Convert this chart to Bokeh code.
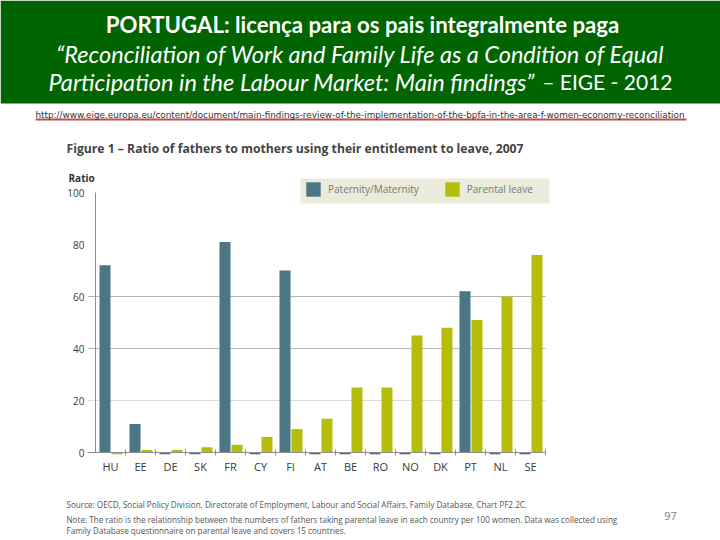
from bokeh.embed import file_html
from bokeh.resources import INLINE
from bokeh.plotting import figure
from bokeh.models import (BoxAnnotation, ColumnDataSource, FixedTicker, Label, Legend,
                          LegendItem, LinearAxis, Range1d)

countries = ["HU", "EE", "DE", "SK", "FR", "CY", "FI", "AT", "BE", "RO", "NO", "DK", "PT", "NL", "SE"]
paternity = [72, 11, -0.7, -0.7, 81, -0.7, 70, -0.7, -0.7, -0.7, -0.7, -0.7, 62, -0.7, -0.7]
parental = [-0.7, 1, 1, 2, 3, 6, 9, 13, 25, 25, 45, 48, 51, 60, 76]
y_ticks = [0, 20, 40, 60, 80, 100]
grid_values = [60, 40, 20]
grid_colors = ["#B4B4B4", "#B8B8B8", "#DADADA"]
series_names = ["Paternity/Maternity", "Parental leave"]
title_1 = "PORTUGAL: licença para os pais integralmente paga"
title_2 = "“Reconciliation of Work and Family Life as a Condition of Equal"
title_3a = "Participation in the Labour Market: Main findings”"
title_3b = "– EIGE - 2012"
url = "http://www.eige.europa.eu/content/document/main-findings-review-of-the-implementation-of-the-bpfa-in-the-area-f-women-economy-reconciliation"
fig_title = "Figure 1 – Ratio of fathers to mothers using their entitlement to leave, 2007"
y_title = "Ratio"
source_lines = [
    "Source: OECD, Social Policy Division, Directorate of Employment, Labour and Social Affairs, Family Database, Chart PF2.2C.",
    "Note: The ratio is the relationship between the numbers of fathers taking parental leave in each country per 100 women. Data was collected using",
    "Family Database questionnaire on parental leave and covers 15 countries.",
]
page_no = "97"

GREEN = "#006400"
TEAL = "#4A7686"
LIME = "#B5BD0A"
AXIS = "#8E8E8E"
W, H = 720, 540
PX_X = 30.0   # pixels per category
PX_Y = 2.6    # pixels per ratio unit
ZERO_X, ZERO_Y = 95, 452

p = figure(width=W, height=H, output_backend="svg", toolbar_location=None,
           x_range=Range1d(-ZERO_X / PX_X, (W - ZERO_X) / PX_X),
           y_range=Range1d(-(H - ZERO_Y) / PX_Y, ZERO_Y / PX_Y),
           x_axis_location=None, y_axis_location=None,
           min_border=0, min_border_left=0, min_border_right=0, min_border_top=0, min_border_bottom=0)
p.outline_line_color = None
p.grid.visible = False

src = ColumnDataSource(dict(left_a=[i + 0.133 for i in range(15)], right_a=[i + 0.5 for i in range(15)],
                            left_b=[i + 0.533 for i in range(15)], right_b=[i + 0.9 for i in range(15)],
                            a=paternity, b=parental))
for v, c in zip(grid_values, grid_colors):
    p.segment(x0=[-0.25], x1=[15], y0=[v], y1=[v], line_color=c, line_width=1)
r1 = p.quad(left="left_a", right="right_a", bottom=0, top="a", source=src, fill_color=TEAL, line_color=None)
r2 = p.quad(left="left_b", right="right_b", bottom=0, top="b", source=src, fill_color=LIME, line_color=None)

xa = LinearAxis(fixed_location=0, bounds=(-0.27, 15))
xa.ticker = FixedTicker(ticks=[i + 0.5 for i in range(15)], minor_ticks=list(range(1, 16)))
xa.major_label_overrides = {i + 0.5: c for i, c in enumerate(countries)}
xa.major_tick_line_color = None
xa.major_tick_out = 0
xa.major_tick_in = 0
xa.minor_tick_line_color = AXIS
xa.minor_tick_in = 3
xa.minor_tick_out = 3
xa.axis_line_color = AXIS
xa.major_label_standoff = 3
xa.major_label_text_font = "Open Sans"
xa.major_label_text_font_size = "11px"
xa.major_label_text_color = "#3A3A3A"
p.add_layout(xa, "below")

ya = LinearAxis(fixed_location=0, bounds=(0, 100))
ya.ticker = FixedTicker(ticks=y_ticks)
ya.axis_line_color = AXIS
ya.major_tick_line_color = None
ya.major_tick_in = 0
ya.major_tick_out = 0
ya.minor_tick_line_color = None
ya.major_label_standoff = 11
ya.major_label_text_font = "Open Sans"
ya.major_label_text_font_size = "10px"
ya.major_label_text_color = "#3A3A3A"
p.add_layout(ya, "left")


def rect(x0, x1, y0, y1, color):
    p.add_layout(BoxAnnotation(left=x0, right=x1, top=H - y0, bottom=H - y1,
                               left_units="screen", right_units="screen", top_units="screen",
                               bottom_units="screen", fill_color=color, fill_alpha=1, line_color=None,
                               level="underlay"))


def text(x, y, s, size, color, font="Open Sans", style="normal", align="left"):
    p.add_layout(Label(x=x, y=H - y, x_units="screen", y_units="screen", text=s, text_font=font,
                       text_font_size=f"{size}px", text_color=color, text_font_style=style,
                       text_align=align, text_baseline="middle", level="overlay"))


rect(0, 720, 0, 103, GREEN)
rect(35, 686, 118, 120, "#C0504D")
rect(300, 549, 178, 203, "#EBEBDC")

legend = Legend(items=[LegendItem(label=series_names[0], renderers=[r1]),
                       LegendItem(label=series_names[1], renderers=[r2])],
                orientation="horizontal", location=(304, 342),
                background_fill_alpha=0, border_line_color=None,
                glyph_width=18, glyph_height=18, label_text_font="Open Sans", label_text_font_size="10px",
                label_text_color="#777777", padding=5, margin=0, spacing=24, label_standoff=6)
p.add_layout(legend, "center")

text(362, 24, title_1, 22.2, "white", font="Lato", style="bold", align="center")
text(360, 53, title_2, 23.5, "white", font="Lato", style="italic", align="center")
text(48, 81, title_3a, 23.6, "white", font="Lato", style="italic")
text(672, 81, title_3b, 21, "white", font="Lato", align="right")
text(35, 114, url, 8.82, "#333333", font="DejaVu Sans")
text(66, 148, fig_title, 12.2, "#444444", style="bold")
text(68, 177, y_title, 10, "#333333", style="bold")
text(66, 504, source_lines[0], 8.15, "#555555")
text(66, 519, source_lines[1], 8.15, "#555555")
text(66, 530, source_lines[2], 8.15, "#555555")
text(670, 515, page_no, 11, "#808080", align="center")

open("out.html", "w").write(file_html(p, INLINE))
